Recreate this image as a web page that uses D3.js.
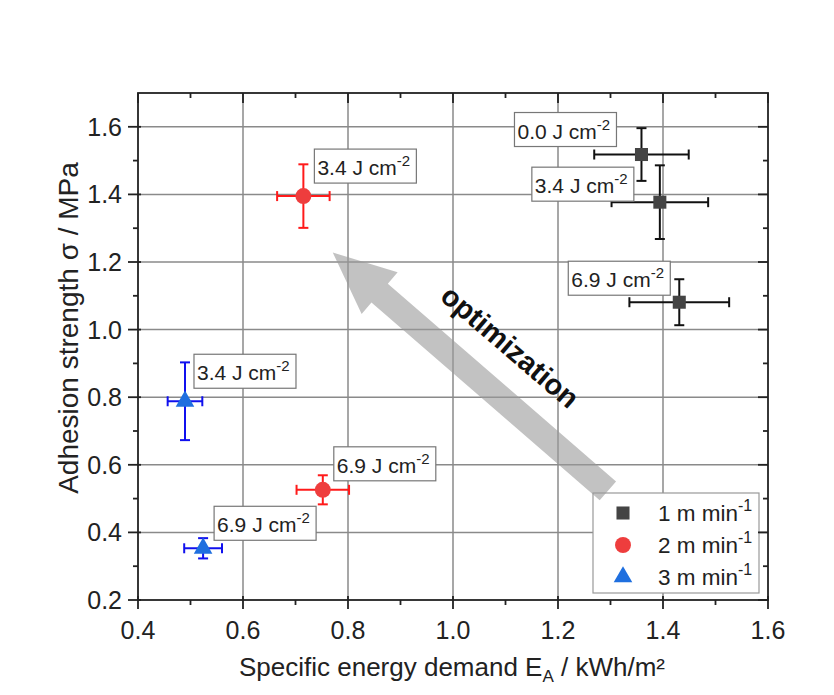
<!DOCTYPE html>
<html>
<head>
<meta charset="utf-8">
<script src="https://cdn.jsdelivr.net/npm/d3@7"></script>
<style>
  body { margin: 0; background: #fff; }
  text { font-family: "Liberation Sans", Arial, sans-serif; }
</style>
</head>
<body>
<svg id="chart" width="834" height="695"></svg>
<script>
// series 1: 1 m/min
const energy1 = [1.359, 1.394, 1.431];
const strength1 = [1.518, 1.377, 1.081];
const energyErr1 = [0.090, 0.092, 0.095];
const strengthErr1 = [0.078, 0.109, 0.068];
const fluence1 = ["0.0", "3.4", "6.9"];
// series 2: 2 m/min
const energy2 = [0.715, 0.752];
const strength2 = [1.395, 0.526];
const energyErr2 = [0.050, 0.050];
const strengthErr2 = [0.094, 0.043];
const fluence2 = ["3.4", "6.9"];
// series 3: 3 m/min
const energy3 = [0.4895, 0.524];
const strength3 = [0.788, 0.353];
const energyErr3 = [0.033, 0.036];
const strengthErr3 = [0.115, 0.030];
const fluence3 = ["3.4", "6.9"];

const speeds = ["1", "2", "3"];
const xTicks = [0.4, 0.6, 0.8, 1.0, 1.2, 1.4, 1.6];
const yTicks = [0.2, 0.4, 0.6, 0.8, 1.0, 1.2, 1.4, 1.6];

const svg = d3.select("#chart");
const pL = 138, pR = 768, pT = 93, pB = 600;

const x = d3.scaleLinear().domain([0.4, 1.6]).range([pL, pR]);
const y = d3.scaleLinear().domain([0.2, 1.7]).range([pB, pT]);

const minorX = d3.range(0.5, 1.6, 0.2);
const minorY = d3.range(0.3, 1.7, 0.2);

// grid
svg.append("g").selectAll("line").data(xTicks.slice(1, -1)).join("line")
  .attr("x1", d => x(d)).attr("x2", d => x(d)).attr("y1", pT).attr("y2", pB)
  .attr("stroke", "#8a8a8a").attr("stroke-width", 1.5);
svg.append("g").selectAll("line").data(yTicks.slice(1)).join("line")
  .attr("x1", pL).attr("x2", pR).attr("y1", d => y(d)).attr("y2", d => y(d))
  .attr("stroke", "#8a8a8a").attr("stroke-width", 1.5);

// optimization arrow (data coords)
const tail = [x(1.295), y(0.523)], tip = [x(0.771), y(1.228)];
const ang = Math.atan2(tip[1] - tail[1], tip[0] - tail[0]);
const len = Math.hypot(tip[0] - tail[0], tip[1] - tail[1]);
const sw = 12.5, hw = 27.5, hl = 62;
const arrowPts = [[0, -sw], [len - hl, -sw], [len - hl, -hw], [len, 0], [len - hl, hw], [len - hl, sw], [0, sw]];

// legend box
const leg = svg.append("g").attr("transform", "translate(593,493)");
leg.append("rect").attr("width", 166).attr("height", 100)
  .attr("fill", "#fff").attr("stroke", "#999").attr("stroke-width", 1.2);

svg.append("polygon")
  .attr("points", arrowPts.map(p => p.join(",")).join(" "))
  .attr("transform", `translate(${tail[0]},${tail[1]}) rotate(${ang * 180 / Math.PI})`)
  .attr("fill", "#999").attr("fill-opacity", 0.6);

svg.append("text")
  .attr("transform", `translate(${x(1.109)},${y(0.95)}) rotate(40.6)`)
  .attr("text-anchor", "middle").attr("dy", "0.35em")
  .attr("font-size", 29).attr("font-weight", "bold").attr("fill", "#111")
  .text("optimization");

// frame
svg.append("rect").attr("x", pL).attr("y", pT)
  .attr("width", pR - pL).attr("height", pB - pT)
  .attr("fill", "none").attr("stroke", "#222").attr("stroke-width", 1.8);

// ticks
const tk = svg.append("g").attr("stroke", "#222").attr("stroke-width", 1.8);
xTicks.forEach(v => {
  tk.append("line").attr("x1", x(v)).attr("x2", x(v)).attr("y1", pB - 4).attr("y2", pB + 9);
  tk.append("line").attr("x1", x(v)).attr("x2", x(v)).attr("y1", pT).attr("y2", pT + 10);
});
minorX.forEach(v => {
  tk.append("line").attr("x1", x(v)).attr("x2", x(v)).attr("y1", pB).attr("y2", pB + 5);
  tk.append("line").attr("x1", x(v)).attr("x2", x(v)).attr("y1", pT).attr("y2", pT + 5);
});
yTicks.forEach(v => {
  tk.append("line").attr("y1", y(v)).attr("y2", y(v)).attr("x1", pL - 10).attr("x2", pL + 3);
  tk.append("line").attr("y1", y(v)).attr("y2", y(v)).attr("x1", pR - 10).attr("x2", pR);
});
minorY.forEach(v => {
  tk.append("line").attr("y1", y(v)).attr("y2", y(v)).attr("x1", pL - 5).attr("x2", pL);
  tk.append("line").attr("y1", y(v)).attr("y2", y(v)).attr("x1", pR - 5).attr("x2", pR);
});

// tick labels
svg.append("g").selectAll("text").data(xTicks).join("text")
  .attr("x", d => x(d)).attr("y", 639).attr("text-anchor", "middle")
  .attr("font-size", 25).attr("fill", "#222").text(d => d.toFixed(1));
svg.append("g").selectAll("text").data(yTicks).join("text")
  .attr("x", 122).attr("y", d => y(d)).attr("dy", "0.36em").attr("text-anchor", "end")
  .attr("font-size", 25).attr("fill", "#222").text(d => d.toFixed(1));

// axis titles
const xt = svg.append("text").attr("x", 452).attr("y", 676)
  .attr("text-anchor", "middle").attr("font-size", 26).attr("fill", "#222");
xt.append("tspan").text("Specific energy demand E");
xt.append("tspan").attr("font-size", 17).attr("dy", 6).text("A");
xt.append("tspan").attr("dy", -6).text(" / kWh/m²");

svg.append("text")
  .attr("transform", `translate(78,328) rotate(-90)`)
  .attr("text-anchor", "middle").attr("font-size", 28).attr("fill", "#222")
  .text("Adhesion strength σ / MPa");

// series
const seriesList = [
  { ex: energy1, st: strength1, exe: energyErr1, ste: strengthErr1, fl: fluence1,
    fill: "#444444", bar: "#111111", sym: d3.symbolSquare, size: 170,
    offs: [[-127, -42], [-128, -35], [-111, -41]] },
  { ex: energy2, st: strength2, exe: energyErr2, ste: strengthErr2, fl: fluence2,
    fill: "#ee3d3d", bar: "#ff1a1a", sym: d3.symbolCircle, size: 200,
    offs: [[11, -47], [11, -43]] },
  { ex: energy3, st: strength3, exe: energyErr3, ste: strengthErr3, fl: fluence3,
    fill: "#1f6fdf", bar: "#1010ee", sym: d3.symbolTriangle, size: 150,
    offs: [[9, -47], [11, -42]] }
];

const cap = 5;
seriesList.forEach(s => {
  const g = svg.append("g");
  s.ex.forEach((ev, i) => {
    const cx = x(ev), cy = y(s.st[i]);
    const x0 = x(ev - s.exe[i]), x1 = x(ev + s.exe[i]);
    const y0 = y(s.st[i] - s.ste[i]), y1 = y(s.st[i] + s.ste[i]);
    const eb = g.append("g").attr("stroke", s.bar).attr("stroke-width", 2);
    eb.append("line").attr("x1", x0).attr("x2", x1).attr("y1", cy).attr("y2", cy);
    eb.append("line").attr("x1", cx).attr("x2", cx).attr("y1", y0).attr("y2", y1);
    eb.append("line").attr("x1", x0).attr("x2", x0).attr("y1", cy - cap).attr("y2", cy + cap);
    eb.append("line").attr("x1", x1).attr("x2", x1).attr("y1", cy - cap).attr("y2", cy + cap);
    eb.append("line").attr("x1", cx - cap).attr("x2", cx + cap).attr("y1", y0).attr("y2", y0);
    eb.append("line").attr("x1", cx - cap).attr("x2", cx + cap).attr("y1", y1).attr("y2", y1);
    g.append("path").attr("d", d3.symbol(s.sym, s.size)())
      .attr("transform", `translate(${cx},${cy})`).attr("fill", s.fill);
  });
});

// fluence labels
seriesList.forEach(s => {
  s.ex.forEach((ev, i) => {
    const bx = x(ev) + s.offs[i][0], by = y(s.st[i]) + s.offs[i][1];
    const lg = svg.append("g").attr("transform", `translate(${bx},${by})`);
    lg.append("rect").attr("width", 102).attr("height", 34)
      .attr("fill", "#fff").attr("stroke", "#777").attr("stroke-width", 1.2);
    const t = lg.append("text").attr("x", 3).attr("y", 26).attr("font-size", 21).attr("fill", "#222");
    t.append("tspan").text(s.fl[i] + " J cm");
    t.append("tspan").attr("font-size", 15).attr("dy", -9).text("-2");
  });
});

// legend entries
seriesList.forEach((s, i) => {
  const ly = 20 + i * 32;
  leg.append("path").attr("d", d3.symbol(s.sym, s.size)())
    .attr("transform", `translate(30,${ly})`).attr("fill", s.fill);
  const t = leg.append("text").attr("x", 65).attr("y", ly).attr("dy", "0.36em")
    .attr("font-size", 22.5).attr("fill", "#222");
  t.append("tspan").text(speeds[i] + " m min");
  t.append("tspan").attr("font-size", 16).attr("dy", -10).text("-1");
});
</script>
</body>
</html>
